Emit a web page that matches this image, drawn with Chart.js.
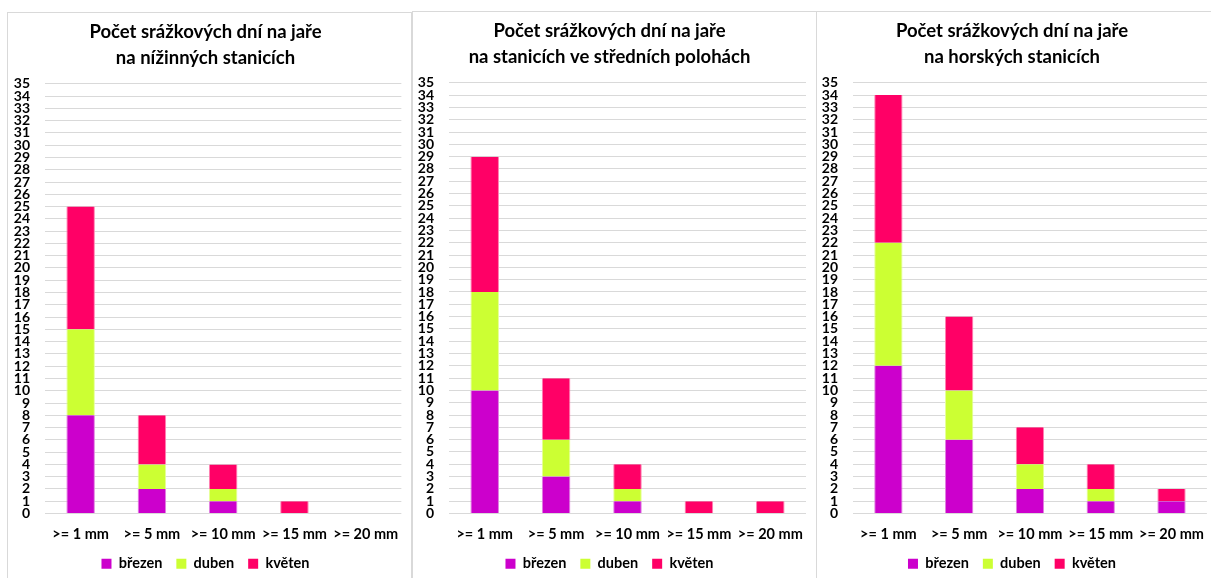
<!DOCTYPE html>
<html>
<head>
<meta charset="utf-8">
<script src="https://cdn.jsdelivr.net/npm/chart.js@4/dist/chart.umd.min.js"></script>
<style>
  body { margin: 0; background: #fff; width: 1211px; height: 578px; overflow: hidden; position: relative; }
  .panel { position: absolute; border: 1px solid #d9d9d9; background: #fff; }
  canvas { display: block; }
</style>
</head>
<body>
<div class="panel" style="left:7px; top:12px; width:403px; height:570px;"><canvas id="c1" width="403" height="568"></canvas></div>
<div class="panel" style="left:412px; top:11px; width:403px; height:570px;"><canvas id="c2" width="403" height="569"></canvas></div>
<div class="panel" style="left:816px; top:11px; width:400px; height:570px;"><canvas id="c3" width="400" height="569"></canvas></div>
<script>
// kategorie srážek a měsíce
var kategorie = [">= 1 mm", ">= 5 mm", ">= 10 mm", ">= 15 mm", ">= 20 mm"];
var mesice = ["březen", "duben", "květen"];
var barvy = ["#cc00cc", "#ccff33", "#ff0066"];
var okraje = ["#e080e0", "#e6ff99", "#ff80b2"];

// nížinné stanice
var nizinne_brezen = [8, 2, 1, 0, 0];
var nizinne_duben = [7, 2, 1, 0, 0];
var nizinne_kveten = [10, 4, 2, 1, 0];

// střední polohy
var stredni_brezen = [10, 3, 1, 0, 0];
var stredni_duben = [8, 3, 1, 0, 0];
var stredni_kveten = [11, 5, 2, 1, 1];

// horské stanice
var horske_brezen = [12, 6, 2, 1, 1];
var horske_duben = [10, 4, 2, 1, 0];
var horske_kveten = [12, 6, 3, 2, 1];

var osaY = [];
for (var i = 0; i <= 35; i++) osaY.push(i);

var pismo = 'Lato';

function graf(id, nadpis, data, sirkaY, vpravo) {
    new Chart(document.getElementById(id), {
        type: 'bar',
        data: {
            labels: kategorie,
            datasets: mesice.map(function (m, k) {
                return {
                    label: m,
                    data: data[k],
                    backgroundColor: barvy[k],
                    borderColor: okraje[k],
                    borderWidth: { left: 1, right: 1, top: 0, bottom: 0 },
                    barPercentage: 0.8,
                    categoryPercentage: 0.5
                };
            })
        },
        options: {
            responsive: false,
            animation: false,
            layout: { padding: { left: 0, right: vpravo, top: 6, bottom: 0 } },
            plugins: {
                title: {
                    display: true,
                    text: nadpis,
                    color: '#000',
                    font: { family: pismo, size: 18.5, weight: 'bold', lineHeight: 1.4 },
                    padding: { top: 0, bottom: 13 }
                },
                legend: {
                    position: 'bottom',
                    labels: {
                        color: '#000',
                        boxWidth: 10,
                        boxHeight: 10,
                        padding: 14,
                        font: { family: pismo, size: 14.5, weight: 'bold' },
                        generateLabels: function (chart) {
                            return chart.data.datasets.map(function (ds, k) {
                                return { text: ds.label, fillStyle: barvy[k], strokeStyle: barvy[k], lineWidth: 0, datasetIndex: k, fontColor: '#000' };
                            });
                        }
                    }
                },
                tooltip: { enabled: false }
            },
            scales: {
                x: {
                    stacked: true,
                    grid: { display: false, drawTicks: false },
                    border: { display: false },
                    afterFit: function (ax) { ax.height = 29; },
                    ticks: { color: '#000', padding: 12, maxRotation: 0, font: { family: pismo, size: 14.5, weight: 'bold' } }
                },
                y: {
                    stacked: true,
                    min: 0,
                    max: 35,
                    afterBuildTicks: function (ax) { ax.ticks = osaY.map(function (v) { return { value: v }; }); },
                    afterFit: function (ax) { ax.width = sirkaY; },
                    grid: { color: '#d9d9d9', drawTicks: false },
                    border: { display: false },
                    ticks: { color: '#000', padding: 15, autoSkip: false, font: { family: pismo, size: 14, weight: 'bold', lineHeight: 1 } }
                }
            }
        }
    });
}

graf('c1', ['Počet srážkových dní na jaře', 'na nížinných stanicích'], [nizinne_brezen, nizinne_duben, nizinne_kveten], 37, 8);
graf('c2', ['Počet srážkových dní na jaře', 'na stanicích ve středních polohách'], [stredni_brezen, stredni_duben, stredni_kveten], 36, 10);
graf('c3', ['Počet srážkových dní na jaře', 'na horských stanicích'], [horske_brezen, horske_duben, horske_kveten], 36, 10);
</script>
</body>
</html>
